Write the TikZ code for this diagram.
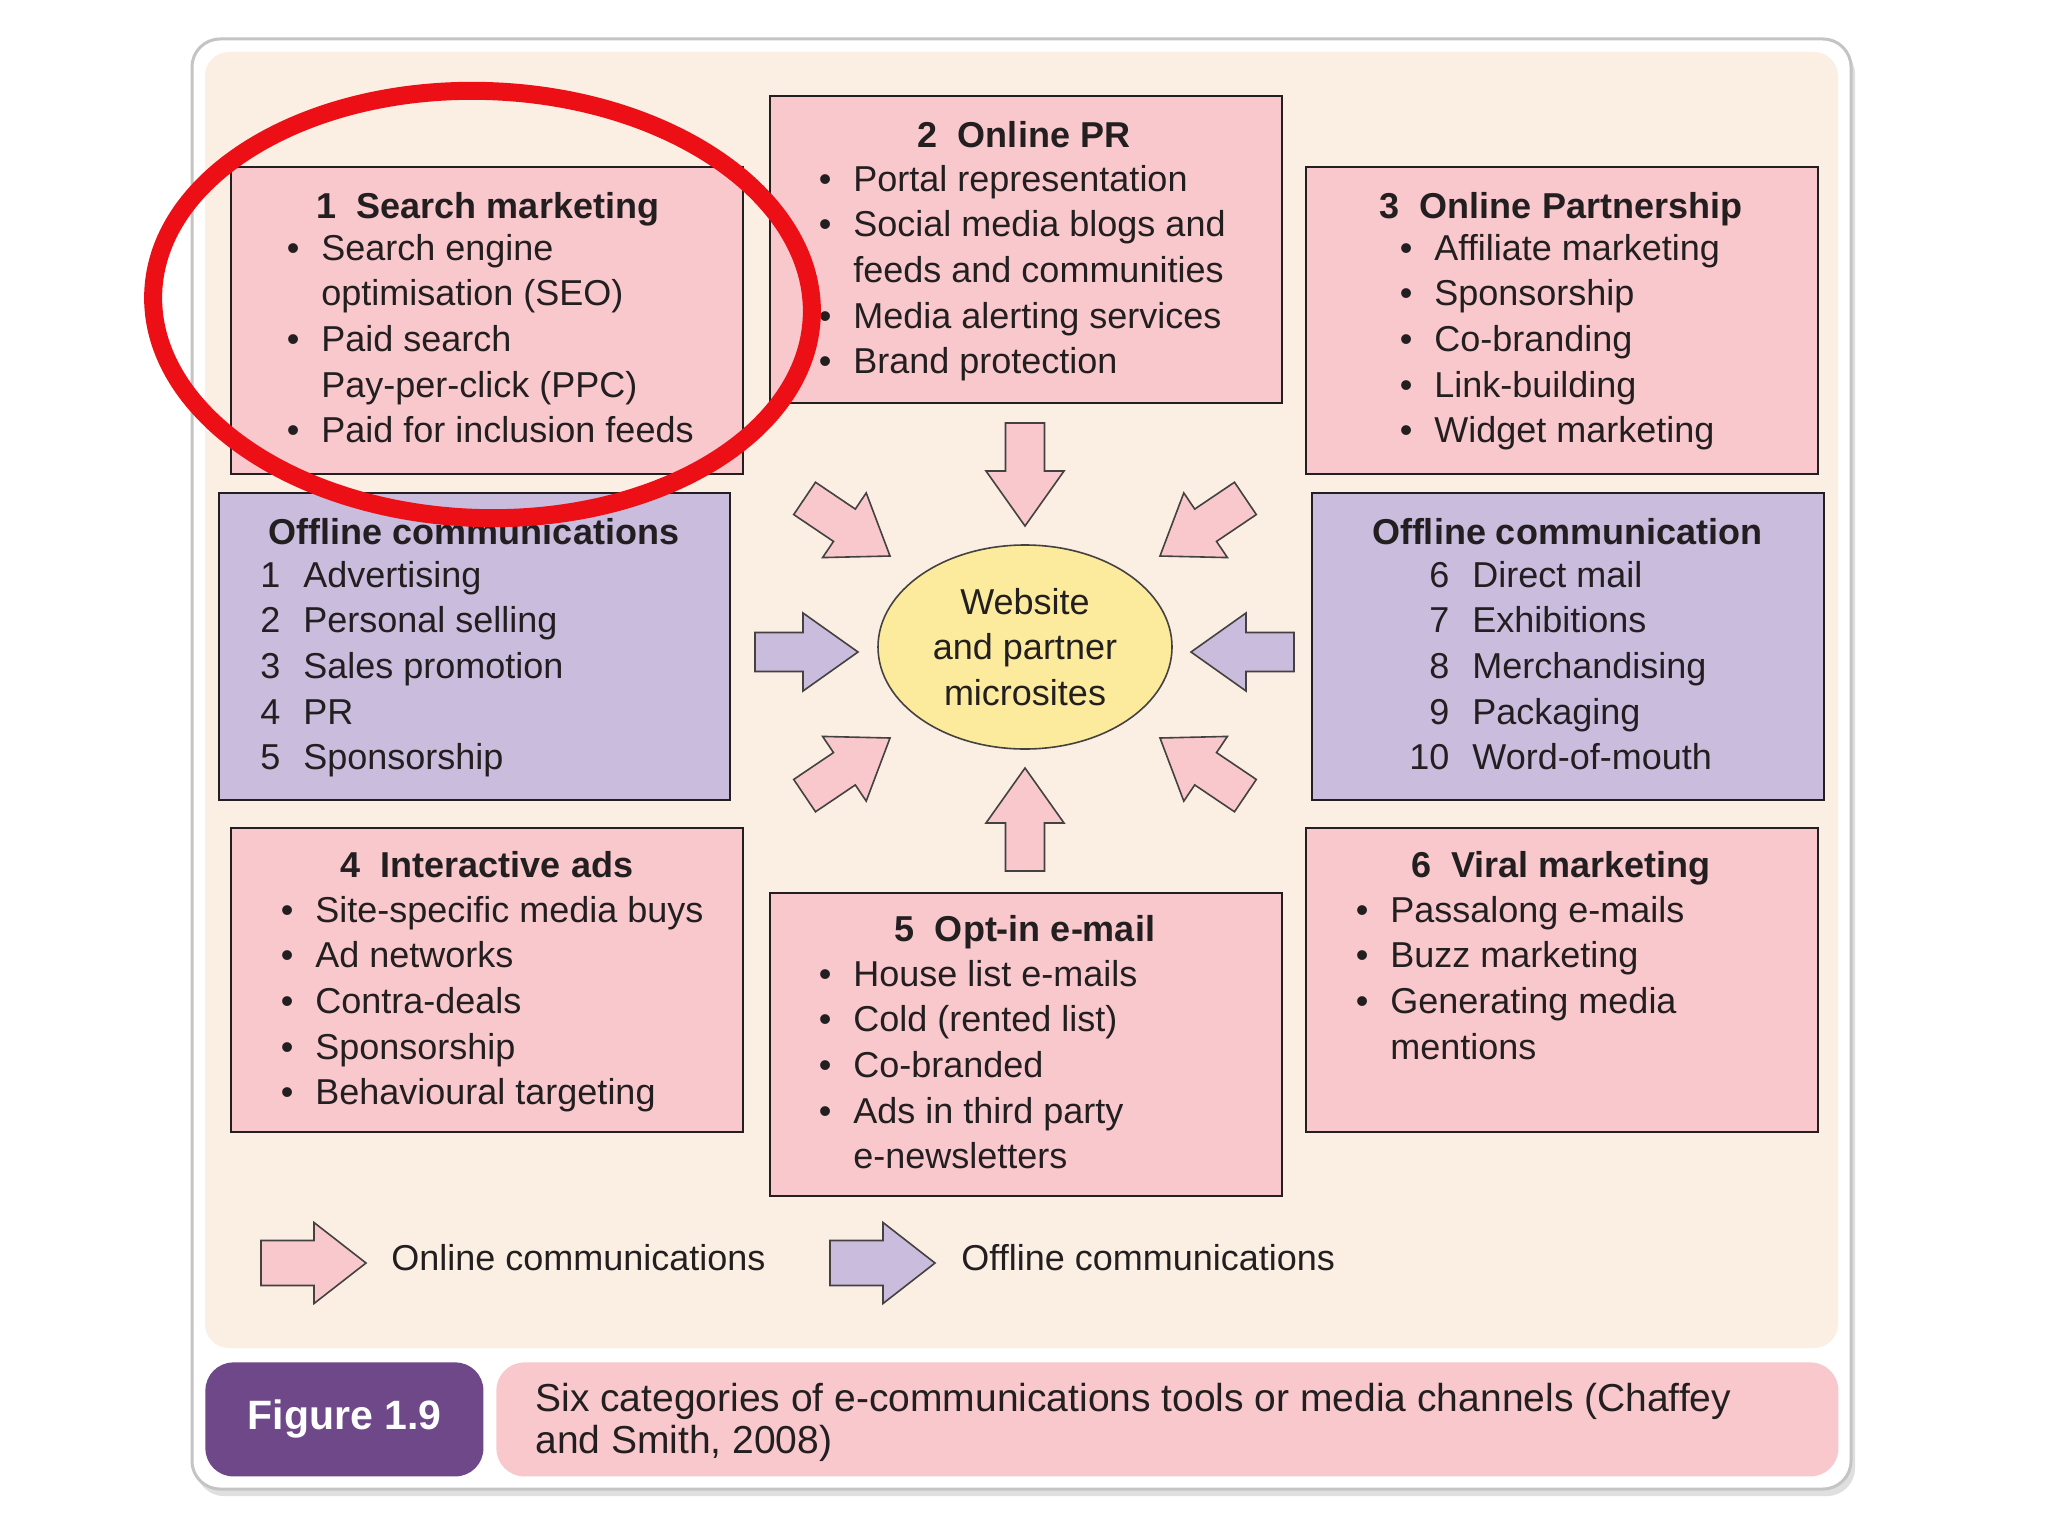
\documentclass[tikz,border=0pt]{standalone}
\usepackage{fontspec}
\setmainfont{Liberation Sans}
\usetikzlibrary{shapes.geometric}
\definecolor{beige}{HTML}{FBEEE3}
\definecolor{pinkfill}{HTML}{F8C8CC}
\definecolor{purplefill}{HTML}{C9BCDD}
\definecolor{yellfill}{HTML}{FCEB9C}
\definecolor{figpurple}{HTML}{6E4889}
\definecolor{txt}{HTML}{231F20}
\definecolor{redring}{HTML}{EC0F16}
\definecolor{framegray}{HTML}{C4C4C4}
\newcommand\mybul{\llap{\textbullet\hspace{11pt}}}
\newcommand\mynum[1]{\llap{#1\hspace{11.5pt}}}
\newcommand\blockarr[4]{% style, tip x, tip y, angle
  \draw[#1, shift={(#2,#3)}, rotate=#4] (0,0) -- (-55,-39) -- (-55,-19.5) -- (-103,-19.5)
    -- (-103,19.5) -- (-55,19.5) -- (-55,39) -- cycle;}
\newcommand\legarr[3]{% style, tip x, tip y
  \draw[#1, shift={(#2,#3)}] (0,0) -- (-52,-40.5) -- (-52,-22.5) -- (-105,-22.5)
    -- (-105,22.5) -- (-52,22.5) -- (-52,40.5) -- cycle;}
\tikzset{
  pbox/.style={draw=txt, line width=1.2pt, fill=pinkfill, anchor=north west, inner sep=0pt, minimum width=256pt},
  vbox/.style={pbox, fill=purplefill},
  hdr/.style={font=\bfseries\fontsize{18}{22.85}\selectfont, text=txt, anchor=base, inner sep=0pt},
  lst/.style={font=\fontsize{18}{22.85}\selectfont, text=txt, anchor=base west, inner sep=0pt},
  onarr/.style={fill=pinkfill, draw=txt!85, line width=0.8pt, line join=miter},
  offarr/.style={fill=purplefill, draw=txt!85, line width=0.8pt, line join=miter},
}
\begin{document}
\begin{tikzpicture}[x=0.5pt, y=-0.5pt]
\useasboundingbox (0,0) rectangle (2048,1536);
\fill[white] (0,0) rectangle (2048,1536);
% frame
\fill[gray!25, rounded corners=14pt] (196,46) rectangle (1855,1496);
\draw[framegray, line width=1.5pt, fill=white, rounded corners=14pt] (192,39) rectangle (1851,1489);
\fill[beige, rounded corners=12pt] (205,52) rectangle (1838,1348);

% boxes
\node[pbox, minimum height=153.5pt] (b1) at (230,166) {};
\node[pbox, minimum height=153.5pt] (b2) at (769,95) {};
\node[pbox, minimum height=153.5pt] (b3) at (1305,166) {};
\node[vbox, minimum height=153.5pt, minimum width=255.5pt] (offl) at (218,492) {};
\node[vbox, minimum height=153.5pt] (offr) at (1311,492) {};
\node[pbox, minimum height=152pt] (b4) at (230,827) {};
\node[pbox, minimum height=151.5pt] (b5) at (769,892) {};
\node[pbox, minimum height=152pt] (b6) at (1305,827) {};

% headers
\node[hdr] (h1) at (488,218) {1\ \ Search marketing};
\node[hdr] (h2) at (1024,148) {2\ \ Online PR};
\node[hdr] (h3) at (1561,218) {3\ \ Online Partnership};
\node[hdr] (hoffl) at (474,544) {Offline communications};
\node[hdr] (hoffr) at (1567,544) {Offline communication};
\node[hdr] (h4) at (487,877) {4\ \ Interactive ads};
\node[hdr] (h5) at (1025,941) {5\ \ Opt-in e-mail};
\node[hdr] (h6) at (1561,877) {6\ \ Viral marketing};

% lists
\node[lst] (l1) at (321,260) {\begin{tabular}[t]{@{}l@{}}
\mybul Search engine\\ optimisation (SEO)\\ \mybul Paid search\\ Pay-per-click (PPC)\\ \mybul Paid for inclusion feeds
\end{tabular}};
\node[lst] (l2) at (853,191) {\begin{tabular}[t]{@{}l@{}}
\mybul Portal representation\\ \mybul Social media blogs and\\ feeds and communities\\ \mybul Media alerting services\\ \mybul Brand protection
\end{tabular}};
\node[lst] (l3) at (1434,260) {\begin{tabular}[t]{@{}l@{}}
\mybul Affiliate marketing\\ \mybul Sponsorship\\ \mybul Co-branding\\ \mybul Link-building\\ \mybul Widget marketing
\end{tabular}};
\node[lst] (loffl) at (303,587) {\begin{tabular}[t]{@{}l@{}}
\mynum{1}Advertising\\ \mynum{2}Personal selling\\ \mynum{3}Sales promotion\\ \mynum{4}PR\\ \mynum{5}Sponsorship
\end{tabular}};
\node[lst] (loffr) at (1472,587) {\begin{tabular}[t]{@{}l@{}}
\mynum{6}Direct mail\\ \mynum{7}Exhibitions\\ \mynum{8}Merchandising\\ \mynum{9}Packaging\\ \mynum{10}Word-of-mouth
\end{tabular}};
\node[lst] (l4) at (315,922) {\begin{tabular}[t]{@{}l@{}}
\mybul Site-specific media buys\\ \mybul Ad networks\\ \mybul Contra-deals\\ \mybul Sponsorship\\ \mybul Behavioural targeting
\end{tabular}};
\node[lst] (l5) at (853,986) {\begin{tabular}[t]{@{}l@{}}
\mybul House list e-mails\\ \mybul Cold (rented list)\\ \mybul Co-branded\\ \mybul Ads in third party\\ e-newsletters
\end{tabular}};
\node[lst] (l6) at (1390,922) {\begin{tabular}[t]{@{}l@{}}
\mybul Passalong e-mails\\ \mybul Buzz marketing\\ \mybul Generating media\\ mentions
\end{tabular}};

% centre ellipse
\node[ellipse, draw=txt!85, line width=0.8pt, fill=yellfill, minimum width=147pt, minimum height=102pt,
  inner sep=0pt, align=center, text=txt, font=\fontsize{18}{22.85}\selectfont] (web) at (1025,647)
  {Website\\and partner\\microsites};

% block arrows
\blockarr{onarr}{1025}{526}{-90}
\blockarr{onarr}{1025}{768}{90}
\blockarr{offarr}{858}{652}{0}
\blockarr{offarr}{1191}{652}{180}
\blockarr{onarr}{890}{556}{-34}
\blockarr{onarr}{1160}{556}{-146}
\blockarr{onarr}{890}{738}{34}
\blockarr{onarr}{1160}{738}{146}

% legend
\legarr{onarr}{366}{1263}
\node[lst, anchor=west] (legon) at (391,1258) {Online communications};
\legarr{offarr}{935}{1263}
\node[lst, anchor=west] (legoff) at (961,1258) {Offline communications};

% caption
\node[fill=figpurple, rounded corners=14pt, anchor=north west, minimum width=139pt, minimum height=57pt, inner sep=0pt,
  text=white, font=\bfseries\fontsize{20.5}{24}\selectfont] (fig) at (205,1362) {Figure 1.9};
\node[fill=pinkfill, rounded corners=14pt, anchor=north west, minimum width=671pt, minimum height=57pt, inner sep=0pt] (cap) at (496,1362) {};
\node[lst, anchor=base west] (captext) at (535,1411) {\fontsize{19.5}{21}\selectfont\begin{tabular}[t]{@{}l@{}}
Six categories of e-communications tools or media channels (Chaffey\\ and Smith, 2008)
\end{tabular}};

% red ring
\draw[redring, line width=9pt, rotate around={-2:(482.5,304.5)}] (482.5,304.5) ellipse [x radius=164.75pt, y radius=106.75pt];
\end{tikzpicture}
\end{document}
